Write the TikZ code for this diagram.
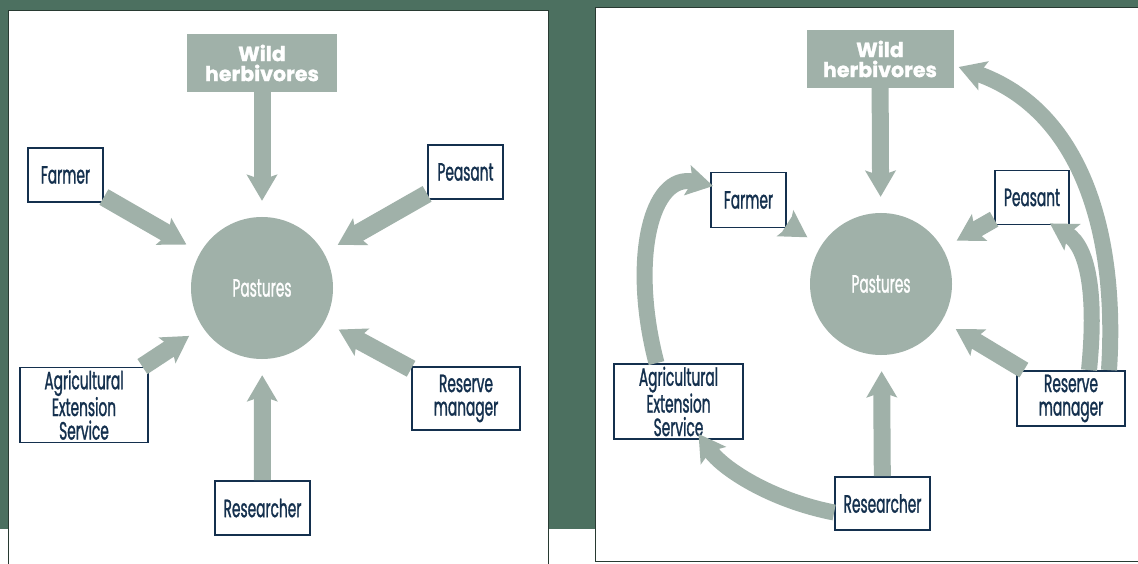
\documentclass[tikz,border=0pt]{standalone}
\usepackage{fontspec}
\usetikzlibrary{arrows.meta,calc}
\newfontfamily\condfont[FakeStretch=0.55,FakeBold=1.1]{Poppins}
\newfontfamily\heavyfont[FakeBold=1.2]{Poppins}
\definecolor{bggreen}{RGB}{76,112,96}
\definecolor{flowgrey}{RGB}{160,177,169}
\definecolor{boxnavy}{RGB}{20,48,78}
\definecolor{edgedark}{RGB}{40,58,50}

\begin{document}
\begin{tikzpicture}[x=1pt,y=-1pt,
  actor/.style={draw=boxnavy, line width=1.8pt, fill=white, text=boxnavy,
    inner sep=0pt, align=center, font=\condfont\fontsize{25}{23.5}\selectfont},
  source/.style={fill=flowgrey, text=white, inner sep=0pt, align=center,
    font=\heavyfont\bfseries\fontsize{20.5}{20}\selectfont},
  hub/.style={circle, fill=flowgrey, text=white, minimum size=142pt,
    inner sep=0pt, font=\condfont\fontsize{25}{25}\selectfont},
  flow/.style={draw=flowgrey, line width=17pt,
    -{Stealth[length=26pt,width=30pt,inset=5pt]}},
  intoHub/.style={flow, shorten >=16pt},
  curl/.style={flow, line width=16pt},
]
\useasboundingbox (0,0) rectangle (1138,564);

% backdrop and the two panels
\fill[bggreen] (0,0) rectangle (1138,564);
\fill[white] (0,529) rectangle (1138,564);
\filldraw[fill=white, draw=edgedark, line width=0.8pt] (8,10) rectangle (548,570);
\filldraw[fill=white, draw=edgedark, line width=0.8pt] (595,7) rectangle (1145,561);
\draw[edgedark, line width=0.8pt] (8,529) -- (8,564);

% ---------- left panel: all actors act on the pastures ----------
\node[source, minimum width=150pt, minimum height=58pt] (whL) at (262,63) {Wild\\herbivores};
\node[hub] (pasL) at (262,288) {Pastures};
\node[actor, minimum width=75pt, minimum height=54pt] (farmerL) at (65.5,175) {Farmer};
\node[actor, minimum width=75pt, minimum height=54pt] (peasantL) at (465.5,172) {Peasant};
\node[actor, minimum width=128pt, minimum height=75pt] (agriL) at (84,405) {Agricultural\\Extension\\Service};
\node[actor, minimum width=95pt, minimum height=54pt] (resL) at (262.5,508) {Researcher};
\node[actor, minimum width=108pt, minimum height=63pt] (reserveL) at (466,398.5) {Reserve\\manager};

\draw[intoHub] (whL) -- (pasL);
\draw[intoHub, line width=18pt] (farmerL) -- (pasL);
\draw[intoHub, line width=18pt] (peasantL) -- (pasL);
\draw[intoHub, line width=18pt] (agriL) -- (pasL);
\draw[intoHub, line width=18pt] (reserveL) -- (pasL);
\draw[intoHub] (resL) -- (pasL);

% ---------- right panel: actors also influence one another ----------
\node[source, minimum width=147pt, minimum height=58pt] (whR) at (880,59) {Wild\\herbivores};
\node[hub] (pasR) at (881,284) {Pastures};
\node[actor, minimum width=75pt, minimum height=55pt] (farmerR) at (748.5,200) {Farmer};
\node[actor, minimum width=74pt, minimum height=54pt] (peasantR) at (1032,197.5) {Peasant};
\node[actor, minimum width=129pt, minimum height=75pt] (agriR) at (678.5,401.5) {Agricultural\\Extension\\Service};
\node[actor, minimum width=95pt, minimum height=53pt] (resR) at (882.5,503.5) {Researcher};
\node[actor, minimum width=108pt, minimum height=55pt] (reserveR) at (1071,398.5) {Reserve\\manager};

\draw[intoHub] (whR) -- (pasR);
\draw[intoHub] (farmerR) -- (pasR);
\draw[intoHub] (peasantR) -- (pasR);
\draw[intoHub] (reserveR) -- (pasR);
\draw[intoHub] (resR) -- (pasR);

\draw[curl] ($(resR.west)+(0,9)$) .. controls (770,500) and (722,468) .. ($(agriR.south)+(20,-6)$);
\draw[curl] ($(agriR.north)+(-22,0)$) .. controls (630,262) and (650,172) .. ($(farmerR.west)+(3,-14)$);
\draw[curl] ($(reserveR.north)+(18,0)$) .. controls (1096,300) and (1090,248) .. ($(peasantR.south east)+(-20,-2)$);
\draw[curl] ($(reserveR.north)+(38,0)$) .. controls (1118,230) and (1080,110) .. ($(whR.east)+(5,8)$);
\end{tikzpicture}
\end{document}
